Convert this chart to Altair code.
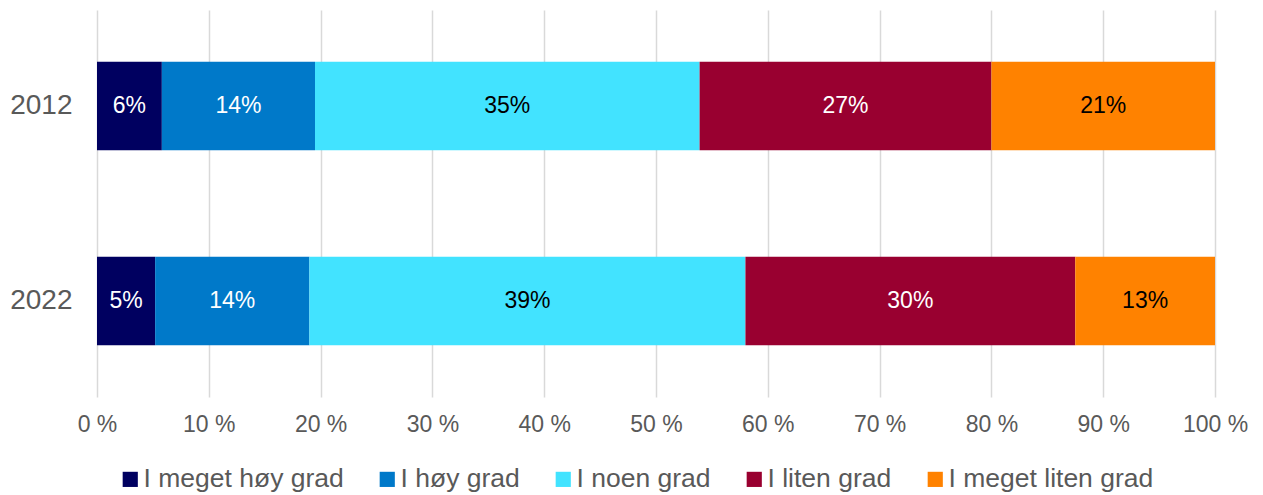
import altair as alt
import pandas as pd

years = ["2012", "2022"]
categories = ["I meget høy grad", "I høy grad", "I noen grad", "I liten grad", "I meget liten grad"]
values_2012 = [5.8, 13.7, 34.4, 26.1, 20.0]
values_2022 = [5.2, 13.8, 39.0, 29.5, 12.5]
labels_2012 = ["6%", "14%", "35%", "27%", "21%"]
labels_2022 = ["5%", "14%", "39%", "30%", "13%"]
colors = ["#000060", "#0079C9", "#42E3FF", "#990030", "#FF8200"]

rows = []
for y, vals, labs in [("2012", values_2012, labels_2012), ("2022", values_2022, labels_2022)]:
    for i, (c, v, l) in enumerate(zip(categories, vals, labs)):
        rows.append({"year": y, "cat": c, "value": v, "label": l, "order": i})
df = pd.DataFrame(rows)

FONT = "Liberation Sans"
GREY = "#595959"

base = alt.Chart(df).transform_stack(
    stack="value", groupby=["year"], as_=["x0", "x1"], offset="normalize",
    sort=[alt.SortField("order", order="ascending")]
).transform_calculate(mid="(datum.x0 + datum.x1) / 2")

yenc = alt.Y("year:N", sort=years, title=None,
             scale=alt.Scale(paddingInner=0.546, paddingOuter=0.265),
             axis=alt.Axis(domain=False, ticks=False, labelFontSize=28, labelColor=GREY,
                           labelFont=FONT, labelPadding=25))

bars = base.mark_bar().encode(
    x=alt.X("x0:Q", scale=alt.Scale(domain=[0, 1], nice=False), title=None,
            axis=alt.Axis(values=[i / 10 for i in range(11)], labelExpr="round(datum.value*100) + ' %'",
                          domain=False, ticks=False, grid=True, gridColor="#d9d9d9", gridWidth=1.5,
                          labelFlush=False, labelFontSize=23, labelColor=GREY, labelFont=FONT,
                          labelPadding=16)),
    x2="x1:Q",
    y=yenc,
    color=alt.Color("cat:N", sort=categories,
                    scale=alt.Scale(domain=categories, range=colors),
                    legend=alt.Legend(title=None, orient="none", direction="horizontal",
                                      legendX=20, legendY=456, symbolType="square", symbolSize=230,
                                      symbolStrokeWidth=0, labelFontSize=26.5, labelFont=FONT,
                                      labelColor=GREY, labelOffset=0, columnPadding=30,
                                      padding=0, labelLimit=400)),
)

text = base.mark_text(fontSize=23, font=FONT).encode(
    x=alt.X("mid:Q", scale=alt.Scale(domain=[0, 1], nice=False)),
    y=alt.Y("year:N", sort=years),
    text="label:N",
    color=alt.condition(alt.FieldOneOfPredicate(field="cat", oneOf=[categories[2], categories[4]]),
                        alt.value("black"), alt.value("white")),
)

chart = alt.layer(bars, text).properties(
    width=1118, height=387,
    autosize=alt.AutoSizeParams(type="none"),
    padding={"left": 89, "top": 2, "right": 40, "bottom": 98},
).configure_view(stroke=None)

chart.save("out.html", embed_options={"renderer": "svg", "actions": False})
